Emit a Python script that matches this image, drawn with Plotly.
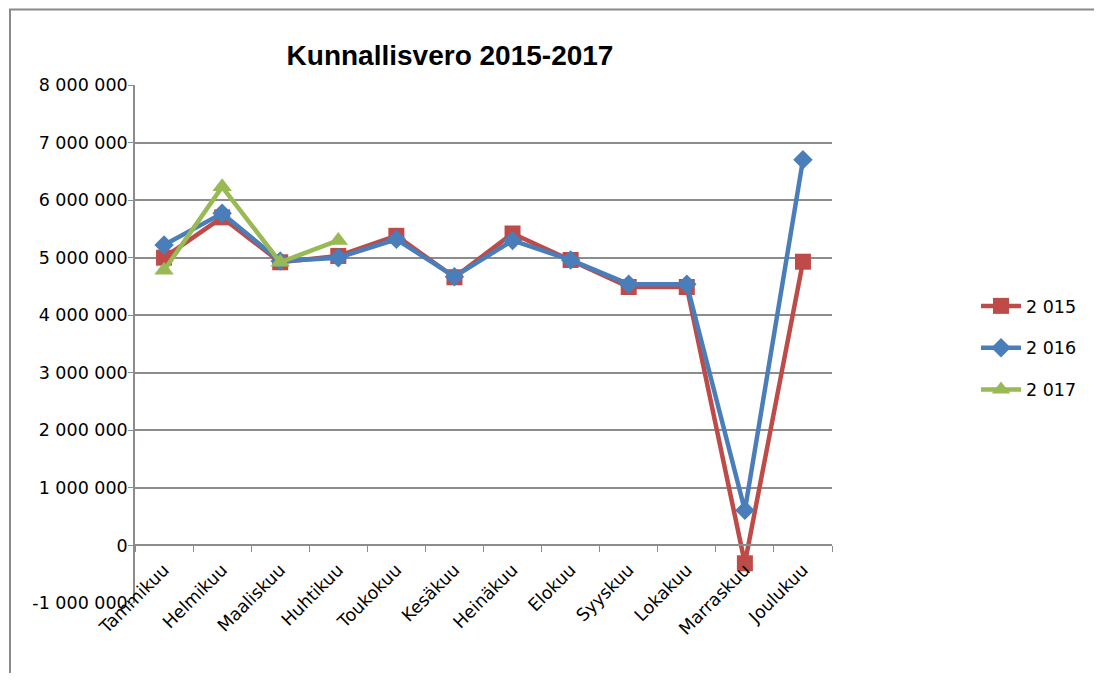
import plotly.graph_objects as go

months = ["Tammikuu", "Helmikuu", "Maaliskuu", "Huhtikuu", "Toukokuu", "Kesäkuu",
          "Heinäkuu", "Elokuu", "Syyskuu", "Lokakuu", "Marraskuu", "Joulukuu"]
v2015 = [5000000, 5700000, 4920000, 5030000, 5380000, 4660000,
         5420000, 4960000, 4490000, 4490000, -310000, 4930000]
v2016 = [5220000, 5770000, 4940000, 5000000, 5320000, 4670000,
         5300000, 4960000, 4540000, 4540000, 610000, 6700000]
v2017 = [4780000, 6230000, 4920000, 5300000]
series_names = ["2 015", "2 016", "2 017"]
ytick_vals = [-1000000, 0, 1000000, 2000000, 3000000, 4000000, 5000000, 6000000, 7000000, 8000000]
ytick_text = ["-1 000 000", "0", "1 000 000", "2 000 000", "3 000 000", "4 000 000",
              "5 000 000", "6 000 000", "7 000 000", "8 000 000"]

FONT = "DejaVu Sans"
TFONT = "Liberation Sans"
FS = 17.5
fig = go.Figure()
fig.add_trace(go.Scatter(x=months, y=v2015, name=series_names[0], mode="lines+markers",
                         legendgroup="a",
                         line=dict(color="#BE4B48", width=4.5),
                         marker=dict(symbol="square", size=16, color="#BE4B48")))
fig.add_trace(go.Scatter(x=months, y=v2016, name=series_names[1], mode="lines+markers",
                         legendgroup="b",
                         line=dict(color="#4A7EBB", width=4.5),
                         marker=dict(symbol="diamond", size=15, color="#4A7EBB")))
fig.add_trace(go.Scatter(x=months[:len(v2017)], y=v2017, name=series_names[2], mode="lines+markers",
                         legendgroup="c",
                         line=dict(color="#98B954", width=4.5),
                         marker=dict(symbol="triangle-up", size=17, color="#98B954")))

OFF = 8  # page body margin
L, R, T, B = 135, 832, 85, 603
W, H = 1102, 681
FW, FH = W - 2 * OFF, H - 2 * OFF
pw, ph = R - L, B - T

def px(x):
    return (x - L) / pw

def py(y):
    return (B - y) / ph

fig.update_layout(
    width=FW, height=FH,
    margin=dict(l=L - OFF, r=FW - (R - OFF), t=T - OFF, b=FH - (B - OFF), pad=0),
    paper_bgcolor="white", plot_bgcolor="white",
    font=dict(family=FONT, size=FS, color="#000000"),
    title=dict(text="<b>Kunnallisvero 2015-2017</b>", font=dict(family=TFONT, size=28, color="#000"),
               x=(450 - OFF) / FW, xref="container", xanchor="center",
               y=1 - (55 - OFF) / FH, yref="container", yanchor="middle"),
    showlegend=True,
    legend=dict(x=px(976), y=py(288), xanchor="left", yanchor="top",
                font=dict(family=FONT, size=FS), traceorder="grouped", tracegroupgap=16,
                bgcolor="rgba(0,0,0,0)", itemwidth=40),
    shapes=[dict(type="rect", xref="paper", yref="paper",
                 x0=px(10), x1=px(1130), y0=py(700), y1=py(9.5),
                 line=dict(color="#8A8A8A", width=2), fillcolor="rgba(0,0,0,0)", layer="below")],
)
fig.update_yaxes(range=[-1000000, 8000000], tickvals=ytick_vals, ticktext=ytick_text,
                 showgrid=True, gridcolor="#8C8C8C", gridwidth=1.5,
                 showline=True, linecolor="#8C8C8C", linewidth=1.5,
                 ticks="outside", ticklen=5, tickcolor="#8C8C8C",
                 ticklabelstandoff=-3,
                 tickfont=dict(family=FONT, size=FS), zeroline=False, fixedrange=True)
fig.update_xaxes(type="category", anchor="free", position=py(545),
                 showline=True, linecolor="#8C8C8C", linewidth=1.5,
                 ticks="outside", ticklen=6, tickcolor="#8C8C8C", tickson="boundaries",
                 showgrid=False, tickangle=-45, tickfont=dict(family=FONT, size=FS),
                 ticklabelstandoff=7,
                 range=[-0.5, 11.5], fixedrange=True)

fig.write_html("out.html")
